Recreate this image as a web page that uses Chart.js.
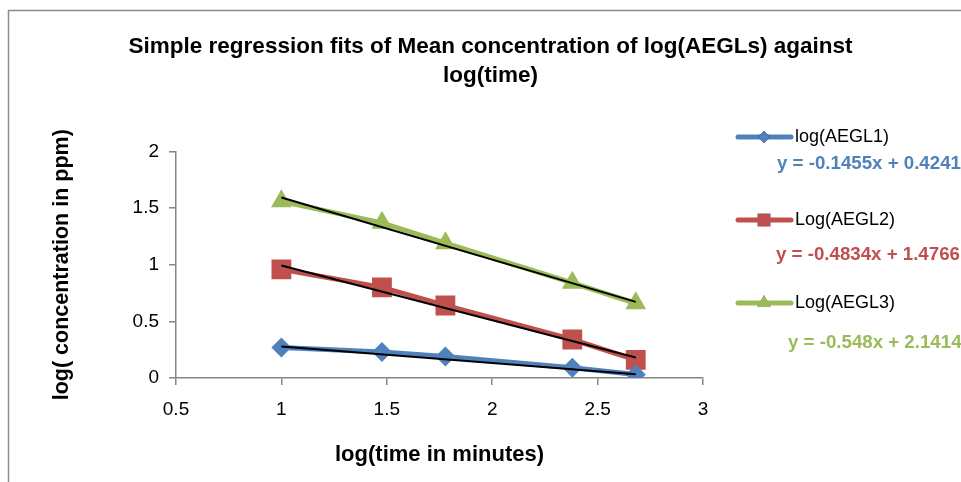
<!DOCTYPE html>
<html lang="en">
<head>
  <meta charset="UTF-8">
  <title>log(AEGLs) against log(time)</title>
  <style>
    html, body { margin: 0; padding: 0; background: #fff; }
    #wrap { width: 961px; height: 482px; }
  </style>
</head>
<body>
  <div id="wrap"><canvas id="chart" width="961" height="482"></canvas></div>

  <script src="https://cdn.jsdelivr.net/npm/chart.js"></script>
  <script>
    // log10 of 10, 30, 60, 240, 480 minutes
    const logTime = [1, 1.477, 1.778, 2.380, 2.681];
    const aegl1 = [0.27, 0.23, 0.19, 0.09, 0.03];
    const aegl2 = [0.96, 0.80, 0.64, 0.34, 0.16];
    const aegl3 = [1.56, 1.37, 1.19, 0.84, 0.66];

    const seriesNames = ['log(AEGL1)', 'Log(AEGL2)', 'Log(AEGL3)'];
    const seriesColors = ['#4F81BD', '#C0504D', '#9BBB59'];
    const markers = ['rectRot', 'rect', 'triangle'];
    const markerSize = [10, 14, 12];

    // fitted trendlines, as printed on the chart
    const slopes = [-0.1455, -0.4834, -0.548];
    const intercepts = [0.4241, 1.4766, 2.1414];
    const equations = ['y = -0.1455x + 0.4241', 'y = -0.4834x + 1.4766', 'y = -0.548x + 2.1414'];

    const xTicks = [0.5, 1, 1.5, 2, 2.5, 3];
    const yTicks = [0, 0.5, 1, 1.5, 2];

    const FONT = "'Liberation Sans', Arial, sans-serif";
    const AXIS = '#868686';

    const pts = ys => logTime.map((x, i) => ({ x: x, y: ys[i] }));
    const allSeries = [aegl1, aegl2, aegl3];

    const datasets = allSeries.map((ys, i) => ({
      label: seriesNames[i],
      data: pts(ys),
      showLine: true,
      borderColor: seriesColors[i],
      backgroundColor: seriesColors[i],
      borderWidth: 5,
      pointStyle: markers[i],
      pointRadius: markerSize[i],
      pointBorderWidth: 0,
      order: 2
    }));

    // black fit lines over the data range
    slopes.forEach((m, i) => {
      const x0 = logTime[0], x1 = logTime[logTime.length - 1];
      datasets.push({
        label: 'fit' + (i + 1),
        data: [{ x: x0, y: m * x0 + intercepts[i] }, { x: x1, y: m * x1 + intercepts[i] }],
        showLine: true,
        borderColor: '#000',
        borderWidth: 2,
        pointRadius: 0,
        order: 1
      });
    });

    const frame = {
      id: 'frame',
      beforeDraw(chart) {
        const c = chart.ctx;
        c.save();
        c.fillStyle = '#fff';
        c.fillRect(0, 0, chart.width, chart.height);
        c.strokeStyle = '#8c8c8c';
        c.lineWidth = 1.5;
        c.strokeRect(8.5, 10.5, 1200, 600);
        c.restore();
      }
    };

    // legend entries and trendline equations on the right
    const sideLegend = {
      id: 'sideLegend',
      afterDraw(chart) {
        const c = chart.ctx;
        const rows = [137, 220, 303];
        const eqPos = [[777, 164], [776, 255], [788, 343]];
        c.save();
        rows.forEach((y, i) => {
          c.strokeStyle = seriesColors[i];
          c.lineWidth = 5;
          c.lineCap = 'round';
          c.beginPath();
          c.moveTo(738, y);
          c.lineTo(791, y);
          c.stroke();
          Chart.helpers.drawPoint(c, {
            pointStyle: markers[i],
            radius: i === 0 ? 6 : (i === 1 ? 9 : 8),
            borderWidth: 0
          }, 764, y);
          c.fillStyle = seriesColors[i];
          c.fill();
          c.fillStyle = '#000';
          c.font = '18px ' + FONT;
          c.textBaseline = 'middle';
          c.textAlign = 'left';
          c.fillText(seriesNames[i], 795, y);
          c.fillStyle = seriesColors[i];
          c.font = 'bold 18.7px ' + FONT;
          c.fillText(equations[i], eqPos[i][0], eqPos[i][1]);
        });
        c.restore();
      }
    };

    new Chart(document.getElementById('chart'), {
      type: 'scatter',
      data: { datasets: datasets },
      plugins: [frame, sideLegend],
      options: {
        responsive: false,
        animation: false,
        layout: { padding: { left: 20, right: 0, top: 18, bottom: 0 } },
        plugins: {
          legend: { display: false },
          tooltip: { enabled: false },
          title: {
            display: true,
            text: ['Simple regression fits of Mean concentration of log(AEGLs) against', 'log(time)'],
            color: '#000',
            font: { family: FONT, size: 22.5, weight: 'bold', lineHeight: 1.3 },
            padding: { top: 14, bottom: 61 }
          }
        },
        scales: {
          x: {
            type: 'linear',
            min: 0.5,
            max: 3,
            afterBuildTicks: s => { s.ticks = xTicks.map(v => ({ value: v })); },
            afterFit: s => { s.height = 104; },
            border: { color: AXIS, width: 1.5 },
            grid: { drawOnChartArea: false, drawTicks: true, tickLength: 7, color: AXIS, lineWidth: 1.5 },
            ticks: { color: '#000', padding: 13, font: { family: FONT, size: 19 }, callback: v => String(v) },
            title: {
              display: true,
              text: 'log(time in minutes)',
              color: '#000',
              font: { family: FONT, size: 22, weight: 'bold' },
              padding: { top: 0, bottom: 14 }
            }
          },
          y: {
            type: 'linear',
            min: 0,
            max: 2,
            afterBuildTicks: s => { s.ticks = yTicks.map(v => ({ value: v })); },
            afterFit: s => { s.width = 156; },
            border: { color: AXIS, width: 1.5 },
            grid: { drawOnChartArea: false, drawTicks: true, tickLength: 7, color: AXIS, lineWidth: 1.5 },
            ticks: { color: '#000', padding: 10, font: { family: FONT, size: 19 }, callback: v => String(v) },
            title: {
              display: true,
              text: 'log( concentration in ppm)',
              color: '#000',
              font: { family: FONT, size: 21.5, weight: 'bold' },
              padding: { top: 29, bottom: 0 }
            }
          },
          // empty right-hand scale that reserves room for the legend
          side: {
            type: 'linear',
            position: 'right',
            display: true,
            afterFit: s => { s.width = 258; },
            border: { display: false },
            grid: { display: false },
            ticks: { display: false }
          }
        }
      }
    });
  </script>
</body>
</html>
